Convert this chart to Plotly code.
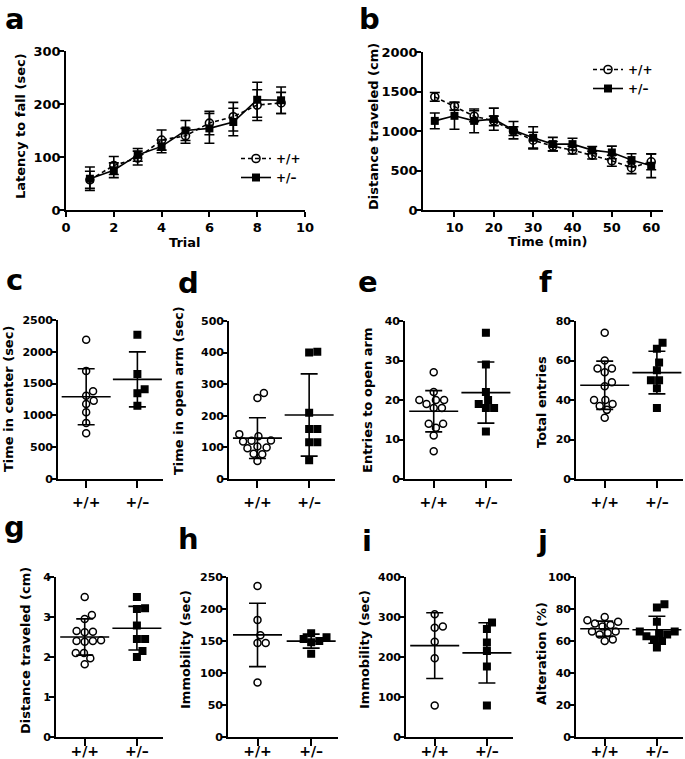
import numpy as np
import plotly.graph_objects as go

W, H = 685, 759
FONT = "DejaVu Sans"

# ---------------- data ----------------
trial = [1, 2, 3, 4, 5, 6, 7, 8, 9]
a_wt_mean = [57, 84, 98, 132, 140, 164, 176, 198, 202]
a_wt_sem = [16, 17, 13, 19, 14, 22, 27, 29, 20]
a_het_mean = [59, 75, 104, 120, 150, 154, 166, 208, 207]
a_het_sem = [22, 14, 12, 12, 19, 28, 26, 33, 25]

time_min = [5, 10, 15, 20, 25, 30, 35, 40, 45, 50, 55, 60]
b_wt_mean = [1432, 1314, 1187, 1128, 998, 884, 808, 758, 695, 623, 535, 610]
b_wt_sem = [55, 50, 70, 60, 55, 100, 60, 50, 50, 70, 75, 100]
b_het_mean = [1128, 1192, 1128, 1150, 1010, 914, 834, 834, 758, 728, 632, 560]
b_het_sem = [100, 170, 150, 140, 110, 140, 85, 75, 45, 80, 80, 150]

groups = ["+/+", "+/–"]
c_wt = [2190, 1700, 1380, 1310, 1230, 1180, 1050, 880, 720]
c_het = [2270, 1650, 1410, 1350, 1150]
d_wt = [272, 256, 142, 135, 122, 121, 119, 103, 97, 100, 80, 78, 57]
d_het = [400, 403, 210, 158, 158, 116, 116, 59]
e_wt = [27, 22, 20, 20, 20, 19, 18, 18, 14, 14, 13, 11, 7]
e_het = [37, 29, 22, 20, 18, 18, 19, 12]
f_wt = [74, 60, 56, 56, 54, 47, 49, 40, 40, 38, 37, 35, 31]
f_het = [69, 66, 59, 55, 50, 50, 46, 36]
g_wt = [3.5, 3.05, 2.95, 2.65, 2.63, 2.62, 2.42, 2.40, 2.40, 2.38, 2.10, 2.10, 1.97, 1.82]
g_het = [3.5, 3.22, 3.2, 2.79, 2.45, 2.45, 2.15, 2.0]
h_wt = [236, 183, 159, 147, 147, 85]
h_het = [162, 156, 153, 150, 148, 130]
i_wt = [307, 276, 273, 238, 197, 79]
i_het = [286, 270, 236, 215, 176, 79]
j_wt = [75, 73, 72, 71, 70, 69, 66, 66, 65, 64, 61, 60]
j_het = [83, 81, 72, 66, 66, 65, 64, 63, 61, 60, 56]

# ---------------- layout helpers ----------------
def dx(L, R):
    return [L / W, R / W]


def dy(T, B):
    return [1 - B / H, 1 - T / H]


BOLD = dict(family=FONT, color="black", weight="bold")
fig = go.Figure()

axis_common = dict(showline=True, linecolor="black", linewidth=1.6, ticks="outside",
                   tickcolor="black", tickwidth=1.6, ticklen=5, showgrid=False,
                   zeroline=False, mirror=False, fixedrange=True, automargin=False,
                   tickfont=dict(size=13, **BOLD))

# Line panels (a, b)
line_panels = [
    dict(key="", L=66, R=305, T=51, B=210, x=trial, xr=[0, 10], xt=[0, 2, 4, 6, 8, 10],
         yr=[0, 300], ydt=100, wt=(a_wt_mean, a_wt_sem), het=(a_het_mean, a_het_sem),
         legend="legend"),
    dict(key="2", L=423, R=663, T=52, B=210, x=time_min, xr=[2, 63],
         xt=[10, 20, 30, 40, 50, 60], yr=[0, 2000], ydt=500,
         wt=(b_wt_mean, b_wt_sem), het=(b_het_mean, b_het_sem), legend="legend2"),
]

for p in line_panels:
    xa, ya = "x" + p["key"], "y" + p["key"]
    fig.add_trace(go.Scatter(
        x=p["x"], y=p["wt"][0], xaxis=xa, yaxis=ya, name="+/+", legend=p["legend"],
        mode="lines+markers",
        line=dict(color="black", width=1.6, dash="4px,3px"),
        marker=dict(symbol="circle-open", size=8, color="black", line=dict(width=1.6)),
        error_y=dict(type="data", array=p["wt"][1], width=5, thickness=1.6, color="black")))
    fig.add_trace(go.Scatter(
        x=p["x"], y=p["het"][0], xaxis=xa, yaxis=ya, name="+/–", legend=p["legend"],
        mode="lines+markers",
        line=dict(color="black", width=1.6),
        marker=dict(symbol="square", size=8, color="black"),
        error_y=dict(type="data", array=p["het"][1], width=5, thickness=1.6, color="black")))
    fig.layout["xaxis" + p["key"]] = dict(axis_common, domain=dx(p["L"], p["R"]),
                                           range=p["xr"], tickvals=p["xt"], anchor=ya)
    fig.layout["yaxis" + p["key"]] = dict(axis_common, domain=dy(p["T"], p["B"]),
                                           range=p["yr"], dtick=p["ydt"], anchor=xa,
                                           ticklabelstandoff=-4)

# Dot panels (c - j)
dot_panels = [
    dict(key="3", L=58, R=163, T=320, B=479, yr=[0, 2500], ydt=500, wt=c_wt, het=c_het, row=2),
    dict(key="4", L=229, R=335, T=321, B=479, yr=[0, 500], ydt=100, wt=d_wt, het=d_het, row=2),
    dict(key="5", L=405, R=512, T=321, B=479, yr=[0, 40], ydt=10, wt=e_wt, het=e_het, row=2),
    dict(key="6", L=576, R=683, T=321, B=479, yr=[0, 80], ydt=20, wt=f_wt, het=f_het, row=2),
    dict(key="7", L=56, R=163, T=577, B=737, yr=[0, 4], ydt=1, wt=g_wt, het=g_het, row=3),
    dict(key="8", L=228, R=338, T=577, B=737, yr=[0, 250], ydt=50, wt=h_wt, het=h_het, row=3),
    dict(key="9", L=406, R=513, T=577, B=737, yr=[0, 400], ydt=100, wt=i_wt, het=i_het, row=3),
    dict(key="10", L=576, R=683, T=577, B=737, yr=[0, 100], ydt=20, wt=j_wt, het=j_het, row=3),
]
XR = [0.45, 2.5]
MS = 7


def swarm(vals, ypx, xpx, diam):
    ys = [v * ypx for v in vals]
    order = sorted(range(len(vals)), key=lambda k: ys[k])
    placed, offs = [], [0.0] * len(vals)
    for k in order:
        y = ys[k]
        cands, ints = [0.0], []
        for (px, py) in placed:
            d = abs(py - y)
            if d < diam:
                w = (diam ** 2 - d ** 2) ** 0.5
                ints.append((px - w, px + w))
                cands += [px - w, px + w]
        best = 0.0
        for c in sorted(cands, key=lambda c: (round(abs(c), 6), -c)):
            if all(not (a + 1e-6 < c < b - 1e-6) for a, b in ints):
                best = c
                break
        offs[k] = best / xpx
        placed.append((best, y))
    return offs


for p in dot_panels:
    xa, ya = "x" + p["key"], "y" + p["key"]
    xpx = (p["R"] - p["L"]) / (XR[1] - XR[0])
    ypx = (p["B"] - p["T"]) / (p["yr"][1] - p["yr"][0])
    for gi, (vals, sym) in enumerate([(p["wt"], "circle-open"), (p["het"], "square")]):
        offs = swarm(vals, ypx, xpx, MS + 1.2)
        fig.add_trace(go.Scatter(
            x=[gi + 1 + o for o in offs], y=vals, xaxis=xa, yaxis=ya, mode="markers",
            showlegend=False,
            marker=dict(symbol=sym, size=MS if sym == "circle-open" else 6.5, color="black",
                        line=dict(width=1.5, color="black"))))
        m = float(np.mean(vals))
        sd = float(np.std(vals, ddof=1))
        fig.add_trace(go.Scatter(
            x=[gi + 1], y=[m], xaxis=xa, yaxis=ya, mode="markers", showlegend=False,
            marker=dict(symbol="line-ew", size=35, color="black",
                        line=dict(width=1.6, color="black")),
            error_y=dict(type="data", array=[sd], width=8.5, thickness=1.6, color="black")))
    fig.layout["xaxis" + p["key"]] = dict(
        axis_common, domain=dx(p["L"], p["R"]), range=XR, tickvals=[1, 2],
        ticktext=groups, anchor=ya, ticklen=7,
        ticklabelstandoff=2 if p["row"] == 2 else -7,
        tickfont=dict(size=14, **BOLD))
    fig.layout["yaxis" + p["key"]] = dict(axis_common, domain=dy(p["T"], p["B"]),
                                           range=p["yr"], dtick=p["ydt"], anchor=xa,
                                           ticklabelstandoff=-4,
                                           tickfont=dict(size=11, **BOLD))

# ---------------- text ----------------
ann = []
LS = 29
letters = [("a", 3, 28), ("b", 357, 28), ("c", 4, 289), ("d", 176, 292), ("e", 356, 291),
           ("f", 537, 291), ("g", 2, 536), ("h", 176, 548), ("i", 360, 550), ("j", 535, 550)]
for t, x, base in letters:
    top = max(0.0, base - 0.93 * LS - 1)
    ann.append(dict(text=t, x=x / W, y=1 - top / H, xref="paper",
                    yref="paper", xanchor="left", yanchor="top", showarrow=False,
                    font=dict(size=LS, **BOLD)))

ytitles = [("Latency to fall (sec)", 20, 126), ("Distance traveled (cm)", 373, 127),
           ("Time in center (sec)", 8, 399), ("Time in open arm (sec)", 178, 391),
           ("Entries to open arm", 367, 400), ("Total entries", 541, 402),
           ("Distance traveled (cm)", 25, 651), ("Immobility (sec)", 185, 650),
           ("Immobility (sec)", 364, 650), ("Alteration (%)", 541, 654)]
for t, x, y in ytitles:
    ann.append(dict(text=t, x=x / W, y=1 - y / H, xref="paper", yref="paper",
                    xanchor="center", yanchor="middle", textangle=-90, showarrow=False,
                    font=dict(size=13, **BOLD)))

for t, x, y in [("Trial", 185, 243), ("Time (min)", 547, 242)]:
    ann.append(dict(text=t, x=x / W, y=1 - y / H, xref="paper", yref="paper",
                    xanchor="center", yanchor="middle", showarrow=False,
                    font=dict(size=13, **BOLD)))

leg_common = dict(bgcolor="rgba(0,0,0,0)", font=dict(size=12, **BOLD), itemwidth=30,
                  xanchor="left", yanchor="top", tracegroupgap=0, traceorder="normal")

fig.update_layout(
    width=W, height=H, margin=dict(l=0, r=0, t=0, b=0, autoexpand=False),
    paper_bgcolor="white", plot_bgcolor="white",
    annotations=ann,
    legend=dict(leg_common, x=236 / W, y=1 - 144 / H),
    legend2=dict(leg_common, x=588 / W, y=1 - 55 / H),
)

fig.write_html("out.html", config={"displayModeBar": False},
               post_script="document.body.style.margin='0px';"
                           "document.body.style.overflow='hidden';")
